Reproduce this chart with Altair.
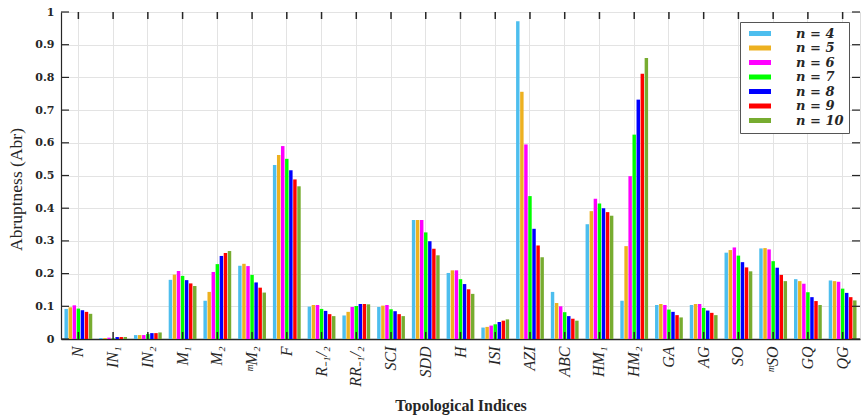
import altair as alt
import pandas as pd

categories = ["N", "IN₁", "IN₂", "M₁", "M₂", "ᵐM₂", "F", "R₋₁/₂", "RR₋₁/₂", "SCI", "SDD", "H",
              "ISI", "AZI", "ABC", "HM₁", "HM₂", "GA", "AG", "SO", "ᵐSO", "GQ", "QG"]
series = ["n = 4", "n = 5", "n = 6", "n = 7", "n = 8", "n = 9", "n = 10"]
colors = ["#4DBEEE", "#EDB120", "#FF00FF", "#00FF00", "#0000FF", "#FF0000", "#77AC30"]

n4 = [0.092, 0.003, 0.012, 0.181, 0.117, 0.224, 0.532, 0.099, 0.072, 0.098, 0.364, 0.202,
      0.035, 0.972, 0.144, 0.351, 0.117, 0.104, 0.104, 0.264, 0.277, 0.183, 0.179]
n5 = [0.097, 0.003, 0.012, 0.197, 0.144, 0.230, 0.563, 0.104, 0.083, 0.102, 0.364, 0.210,
      0.037, 0.756, 0.110, 0.391, 0.284, 0.107, 0.107, 0.272, 0.278, 0.177, 0.177]
n6 = [0.103, 0.004, 0.012, 0.208, 0.205, 0.223, 0.590, 0.104, 0.098, 0.104, 0.364, 0.210,
      0.041, 0.595, 0.100, 0.429, 0.498, 0.104, 0.107, 0.280, 0.274, 0.169, 0.175]
n7 = [0.093, 0.002, 0.015, 0.193, 0.229, 0.196, 0.551, 0.092, 0.101, 0.091, 0.326, 0.183,
      0.045, 0.437, 0.082, 0.414, 0.625, 0.090, 0.095, 0.255, 0.238, 0.143, 0.154]
n8 = [0.088, 0.006, 0.018, 0.180, 0.254, 0.173, 0.516, 0.086, 0.107, 0.085, 0.299, 0.168,
      0.052, 0.337, 0.070, 0.400, 0.732, 0.083, 0.087, 0.235, 0.218, 0.128, 0.141]
n9 = [0.083, 0.006, 0.018, 0.170, 0.263, 0.157, 0.488, 0.076, 0.107, 0.076, 0.276, 0.152,
      0.056, 0.286, 0.062, 0.388, 0.811, 0.073, 0.080, 0.219, 0.196, 0.116, 0.128]
n10 = [0.077, 0.006, 0.020, 0.162, 0.269, 0.142, 0.467, 0.070, 0.106, 0.070, 0.256, 0.138,
       0.060, 0.250, 0.056, 0.377, 0.859, 0.066, 0.073, 0.207, 0.177, 0.104, 0.118]

y_ticks = [0, 0.1, 0.2, 0.3, 0.4, 0.5, 0.6, 0.7, 0.8, 0.9, 1]

rows = []
for s, vals in zip(series, [n4, n5, n6, n7, n8, n9, n10]):
    for c, v in zip(categories, vals):
        rows.append({"cat": c, "n": s, "v": v})
df = pd.DataFrame(rows)
cat_df = pd.DataFrame({"cat": categories})
tick_df = pd.DataFrame({"v": y_ticks})

W, H = 799, 327
DARK = "#262626"

x_scale = alt.Scale(paddingInner=0.2, paddingOuter=0.1)
y_scale = alt.Scale(domain=[0, 1], nice=False)
x_axis = alt.Axis(
    title="Topological Indices",
    labelAngle=270, labelOverlap=False,
    labelFont="Liberation Serif", labelFontStyle="italic", labelFontSize=16,
    labelColor=DARK, labelPadding=7,
    titleFont="Liberation Serif", titleFontWeight="bold", titleFontSize=16,
    titleColor=DARK, titleY=71, titleBaseline="alphabetic",
    grid=True, gridColor="#e3e3e3", ticks=False,
    domain=True, domainColor=DARK, domainWidth=1.5,
)
y_axis = alt.Axis(
    title="Abruptness (Abr)",
    values=y_ticks, format="~g", labelOverlap=False,
    labelFont="DejaVu Serif", labelFontWeight="bold", labelFontSize=11,
    labelColor=DARK, labelPadding=7,
    titleFont="Liberation Serif", titleFontWeight="normal", titleFontSize=17.5,
    titleColor=DARK, titleX=-40, titleY=177, titleBaseline="alphabetic",
    grid=True, gridColor="#e3e3e3", ticks=False,
    domain=True, domainColor=DARK, domainWidth=1.2,
)

X = alt.X("cat:N", sort=categories, scale=x_scale, axis=x_axis)

bars = alt.Chart(df).mark_bar(stroke=None).encode(
    x=X,
    xOffset=alt.XOffset("n:N", sort=series, scale=alt.Scale(paddingInner=0.15)),
    y=alt.Y("v:Q", scale=y_scale, axis=y_axis),
    color=alt.Color(
        "n:N", sort=series,
        scale=alt.Scale(domain=series, range=colors),
        legend=alt.Legend(
            title=None, orient="none", legendX=679, legendY=10,
            fillColor="white", strokeColor="#555555", padding=5,
            symbolType="M-0.5,-0.5H3.9V0.5H-0.5Z", symbolSize=100,
            symbolStrokeWidth=0, symbolOpacity=1,
            labelFont="DejaVu Serif", labelFontWeight="bold",
            labelFontStyle="italic", labelFontSize=13, labelColor=DARK,
            labelOffset=38, rowPadding=0.5,
        ),
    ),
)

bottom_ticks = alt.Chart(cat_df).mark_rule(color=DARK, strokeWidth=1.5).encode(
    x=X, y=alt.value(H), y2=alt.value(H - 7),
)
top_ticks = alt.Chart(cat_df).mark_rule(color=DARK, strokeWidth=1.5).encode(
    x=X, y=alt.value(0), y2=alt.value(7),
)
left_ticks = alt.Chart(tick_df).mark_rule(color=DARK, strokeWidth=1.2).encode(
    y=alt.Y("v:Q", scale=y_scale, axis=y_axis), x=alt.value(0), x2=alt.value(8),
)
right_ticks = alt.Chart(tick_df).mark_rule(color=DARK, strokeWidth=1.2).encode(
    y=alt.Y("v:Q", scale=y_scale, axis=y_axis), x=alt.value(W - 8), x2=alt.value(W),
)

chart = alt.layer(bars, bottom_ticks, top_ticks, left_ticks, right_ticks).properties(
    width=W, height=H,
    autosize=alt.AutoSizeParams(type="none"),
    padding={"left": 61, "top": 12, "right": 2, "bottom": 80},
).configure_view(
    stroke=DARK, strokeWidth=1.2
).configure(background="white")

chart.save("out.html", embed_options={"renderer": "svg", "actions": False})
